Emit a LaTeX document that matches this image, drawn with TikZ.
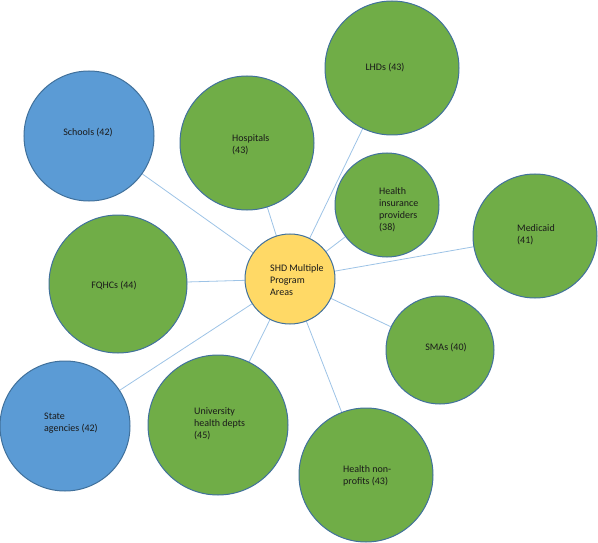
\documentclass[tikz,border=0pt]{standalone}
\usepackage{fontspec}
\setmainfont{Carlito}
\definecolor{gfill}{HTML}{70AD47}
\definecolor{bfill}{HTML}{5B9BD5}
\definecolor{yfill}{HTML}{FFD966}
\definecolor{outl}{HTML}{41719C}
\definecolor{conn}{HTML}{9DC3E6}
\definecolor{txt}{HTML}{1A1A1A}
\pgfdeclarelayer{bg}
\pgfsetlayers{bg,main}
\tikzset{
  circ/.style={circle, draw=outl, line width=1pt, inner sep=0pt},
  gcirc/.style={circ, fill=gfill},
  bcirc/.style={circ, fill=bfill},
  ycirc/.style={circ, fill=yfill},
  lbl/.style={inner sep=0pt, text=txt, font=\fontsize{10}{12}\selectfont, align=left},
  link/.style={draw=conn, line width=0.8pt}
}
\begin{document}
\begin{tikzpicture}[x=1pt, y=-1pt]
\useasboundingbox (0,0) rectangle (598,543);
% circles
\node[bcirc, minimum size=130pt] (sch) at (89,136) {};
\node[gcirc, minimum size=134pt] (hos) at (247,143) {};
\node[gcirc, minimum size=134pt] (lhd) at (392,68) {};
\node[gcirc, minimum size=104pt] (hip) at (387,205) {};
\node[gcirc, minimum size=124pt] (med) at (535,236) {};
\node[ycirc, minimum size=90pt] (shd) at (290,279) {};
\node[gcirc, minimum size=108pt] (sma) at (440,350) {};
\node[gcirc, minimum size=134pt] (hnp) at (366,475) {};
\node[gcirc, minimum size=140pt] (uhd) at (218,425) {};
\node[bcirc, minimum size=130pt] (sta) at (65,426) {};
\node[gcirc, minimum size=138pt] (fqh) at (118,284) {};
% connectors
\begin{pgfonlayer}{bg}
\foreach \t in {sch,hos,lhd,hip,med,sma,hnp,uhd,sta,fqh}
  \draw[link] (shd.center) -- (\t.center);
\end{pgfonlayer}
% labels
\node[lbl] (tsch) at (88,133) {Schools (42)};
\node[lbl, anchor=west] (thos) at (232,144.5) {Hospitals\\(43)};
\node[lbl] (tlhd) at (385,68) {LHDs (43)};
\node[lbl, anchor=west] (thip) at (379,209.5) {Health\\insurance\\providers\\(38)};
\node[lbl, anchor=west] (tmed) at (517,235) {Medicaid\\(41)};
\node[lbl, anchor=west] (tshd) at (270,280) {SHD Multiple\\Program\\Areas};
\node[lbl] (tsma) at (446,348) {SMAs (40)};
\node[lbl, anchor=west] (thnp) at (343,476) {Health non-\\profits (43)};
\node[lbl, anchor=west] (tuhd) at (194,423.5) {University\\health depts\\(45)};
\node[lbl, anchor=west] (tsta) at (44,423.5) {State\\agencies (42)};
\node[lbl] (tfqh) at (114,286) {FQHCs (44)};
\end{tikzpicture}
\end{document}
